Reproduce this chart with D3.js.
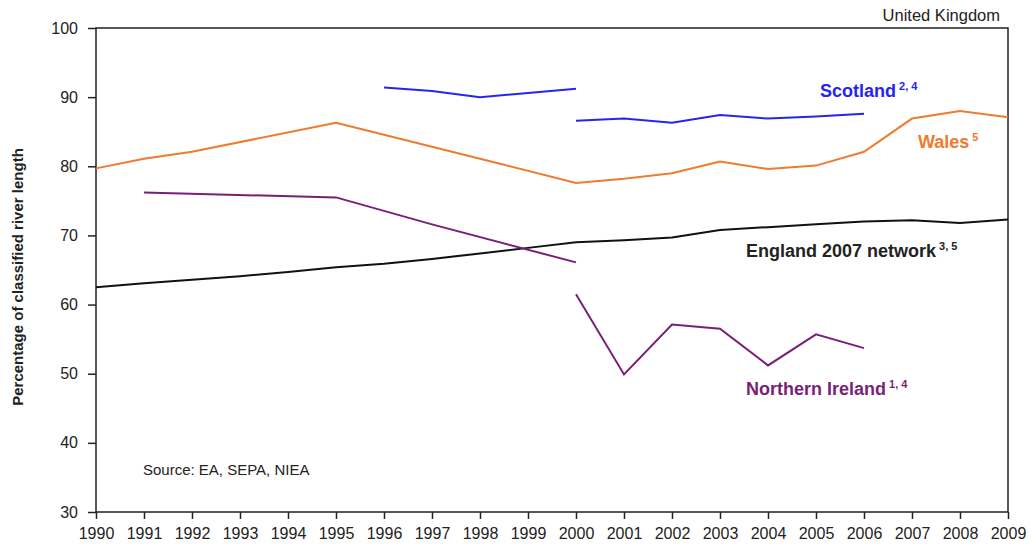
<!DOCTYPE html>
<html>
<head>
<meta charset="utf-8">
<script src="https://cdn.jsdelivr.net/npm/d3@7"></script>
<style>
  body { margin: 0; background: #fff; }
  svg text { font-family: "Liberation Sans", Arial, sans-serif; }
  .axis path, .axis line { stroke: #222; stroke-width: 1.5; }
  .axis text { font-size: 16px; fill: #222; }
</style>
</head>
<body>
<div id="chart"></div>
<script>
// years on the x axis
var years = [1990,1991,1992,1993,1994,1995,1996,1997,1998,1999,2000,2001,2002,2003,2004,2005,2006,2007,2008,2009];
var yTicks = [30,40,50,60,70,80,90,100];

// England 2007 network
var englandYears  = years;
var englandValues = [62.5,63.1,63.6,64.1,64.7,65.4,65.9,66.6,67.4,68.2,69.0,69.3,69.7,70.8,71.2,71.6,72.0,72.2,71.8,72.3];

// Wales
var walesYears  = [1990,1991,1992,1995,1998,2000,2001,2002,2003,2004,2005,2006,2007,2008,2009];
var walesValues = [79.7,81.1,82.1,86.3,81.1,77.6,78.2,79.0,80.7,79.6,80.1,82.1,86.9,88.0,87.1];

// Scotland (two series, break in 2000)
var scotlandOldYears  = [1996,1997,1998,1999,2000];
var scotlandOldValues = [91.4,90.9,90.0,90.6,91.2];
var scotlandNewYears  = [2000,2001,2002,2003,2004,2005,2006];
var scotlandNewValues = [86.6,86.9,86.3,87.4,86.9,87.2,87.6];

// Northern Ireland (two series, break in 2000)
var niOldYears  = [1991,1995,1997,2000];
var niOldValues = [76.2,75.5,71.6,66.1];
var niNewYears  = [2000,2001,2002,2003,2004,2005,2006];
var niNewValues = [61.5,49.9,57.1,56.5,51.2,55.7,53.7];

var width = 1031, height = 548;
var margin = {left:96, right:23, top:28, bottom:36};

var svg = d3.select("#chart").append("svg").attr("width", width).attr("height", height);

var x = d3.scaleLinear().domain([1990,2009]).range([margin.left, width-margin.right]);
var y = d3.scaleLinear().domain([30,100]).range([height-margin.bottom, margin.top]);

function zip(ys, vs) {
    return ys.map(function(yr, i){ return {year: yr, value: vs[i]}; });
}

var line = d3.line().x(function(d){return x(d.year);}).y(function(d){return y(d.value);});

// frame
svg.append("rect").attr("x", x(1990)).attr("y", y(100))
    .attr("width", x(2009)-x(1990)).attr("height", y(30)-y(100))
    .attr("fill", "none").attr("stroke", "#222").attr("stroke-width", 1.5);

var xAxis = d3.axisBottom(x).tickValues(years).tickFormat(d3.format("d")).tickSizeOuter(0).tickSizeInner(7).tickPadding(9);
var yAxis = d3.axisLeft(y).tickValues(yTicks).tickSizeOuter(0).tickSizeInner(8).tickPadding(10);

svg.append("g").attr("class", "x axis").attr("transform", "translate(0,"+(height-margin.bottom)+")").call(xAxis);
svg.append("g").attr("class", "y axis").attr("transform", "translate("+margin.left+",0)").call(yAxis);
svg.selectAll(".axis .domain").remove();

var series = [
    {data: zip(englandYears, englandValues), color: "#111111"},
    {data: zip(walesYears, walesValues), color: "#f07a2e"},
    {data: zip(scotlandOldYears, scotlandOldValues), color: "#2424f4"},
    {data: zip(scotlandNewYears, scotlandNewValues), color: "#2424f4"},
    {data: zip(niOldYears, niOldValues), color: "#7a1f78"},
    {data: zip(niNewYears, niNewValues), color: "#7a1f78"}
];

svg.append("g").selectAll("path").data(series).enter().append("path")
    .attr("d", function(d){return line(d.data);})
    .attr("fill", "none")
    .attr("stroke", function(d){return d.color;})
    .attr("stroke-width", 2);

// series labels
function addLabel(px, py, text, sup, color) {
    var t = svg.append("text").attr("x", px).attr("y", py)
        .attr("fill", color).attr("font-weight", "bold").attr("font-size", "18px").text(text);
    t.append("tspan").attr("font-size", "11px").attr("dx", 3).attr("dy", -7).text(sup);
}

addLabel(820, 97, "Scotland", "2, 4", "#2424f4");
addLabel(918, 148, "Wales", "5", "#f07a2e");
addLabel(746, 257, "England 2007 network", "3, 5", "#222222");
addLabel(746, 395, "Northern Ireland", "1, 4", "#7a1f78");

svg.append("text").attr("x", 1000).attr("y", 21).attr("text-anchor", "end")
    .attr("font-size", "16.5px").attr("fill", "#222").text("United Kingdom");

svg.append("text").attr("x", 143).attr("y", 475)
    .attr("font-size", "15px").attr("fill", "#222").text("Source: EA, SEPA, NIEA");

svg.append("text").attr("transform", "translate(23,277) rotate(-90)")
    .attr("text-anchor", "middle").attr("font-weight", "bold").attr("font-size", "15px")
    .attr("fill", "#222").text("Percentage of classified river length");
</script>
</body>
</html>
